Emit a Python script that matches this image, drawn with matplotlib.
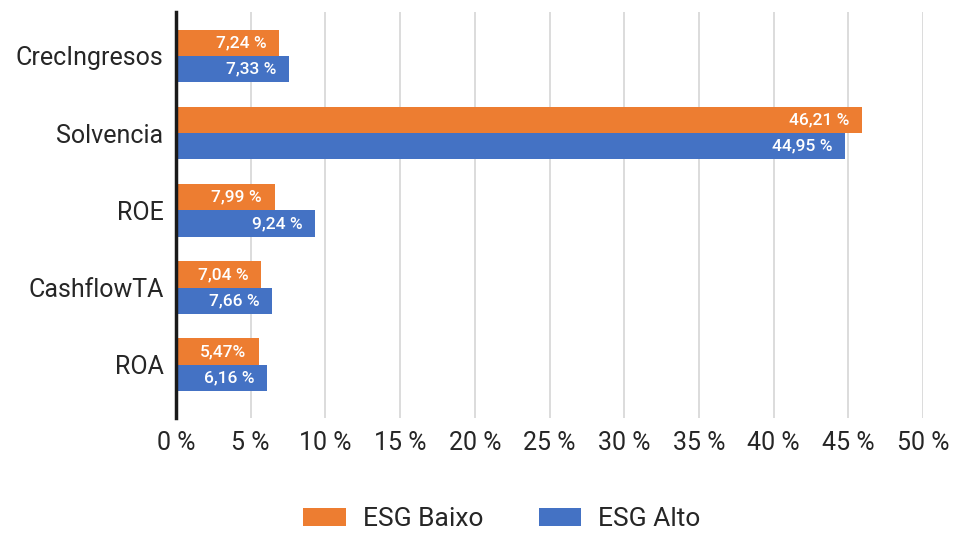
import matplotlib
matplotlib.use("Agg")
import matplotlib.pyplot as plt
import numpy as np

plt.rcParams['font.family'] = ['Roboto', 'DejaVu Sans']

categories = ["CrecIngresos", "Solvencia", "ROE", "CashflowTA", "ROA"]
series_names = ["ESG Baixo", "ESG Alto"]
# bar lengths (percent) as drawn in the picture
baixo_values = [6.9, 45.9, 6.6, 5.7, 5.55]
alto_values = [7.55, 44.75, 9.3, 6.45, 6.1]
# data labels as printed
baixo_labels = ["7,24 %", "46,21 %", "7,99 %", "7,04 %", "5,47%"]
alto_labels = ["7,33 %", "44,95 %", "9,24 %", "7,66 %", "6,16 %"]
xticks = [0, 5, 10, 15, 20, 25, 30, 35, 40, 45, 50]
xtick_labels = ["0 %", "5 %", "10 %", "15 %", "20 %", "25 %", "30 %", "35 %", "40 %", "45 %", "50 %"]

orange = "#ED7D31"
blue = "#4472C4"

fig = plt.figure(figsize=(9.65, 5.36), dpi=100)
ax = fig.add_axes([176/965, 1-418/536, (923-176)/965, (418-12)/536])

n = len(categories)
y = np.arange(n)[::-1]  # first category at top
h = 0.34
b1 = ax.barh(y + h/2, baixo_values, height=h, color=orange, label=series_names[0], zorder=3)
b2 = ax.barh(y - h/2, alto_values, height=h, color=blue, label=series_names[1], zorder=3)

for bars, labs in ((b1, baixo_labels), (b2, alto_labels)):
    for rect, lab in zip(bars, labs):
        ax.annotate(lab, xy=(rect.get_width(), rect.get_y() + rect.get_height()/2),
                    xytext=(-9, 0), textcoords="offset points", ha="right", va="center",
                    color="white", fontsize=12.5, fontweight="medium", zorder=4)

ax.set_xlim(0, 50)
ax.set_ylim(-0.69, 4.57)
ax.set_xticks(xticks)
ax.set_xticklabels(xtick_labels)
ax.set_yticks(y)
ax.set_yticklabels(categories)
ax.tick_params(axis="x", length=0, pad=9, labelsize=18, colors="#262626")
ax.tick_params(axis="y", length=0, pad=9, labelsize=18, colors="#262626")
ax.grid(axis="x", color="#d9d9d9", linewidth=1.3, zorder=0)
ax.set_axisbelow(True)
for s in ("top", "right", "bottom"):
    ax.spines[s].set_visible(False)
ax.spines["left"].set_linewidth(2.5)
ax.spines["left"].set_color("#1a1a1a")
ax.spines["left"].set_zorder(5)

fig.legend(handles=[b1, b2], labels=series_names, loc="lower center",
           bbox_to_anchor=(0.52, -0.035), ncol=2, frameon=False, fontsize=19,
           handlelength=1.6, handleheight=0.7, handletextpad=0.65, columnspacing=2.1,
           labelcolor="#262626")

fig.savefig("out.png", dpi=100)
